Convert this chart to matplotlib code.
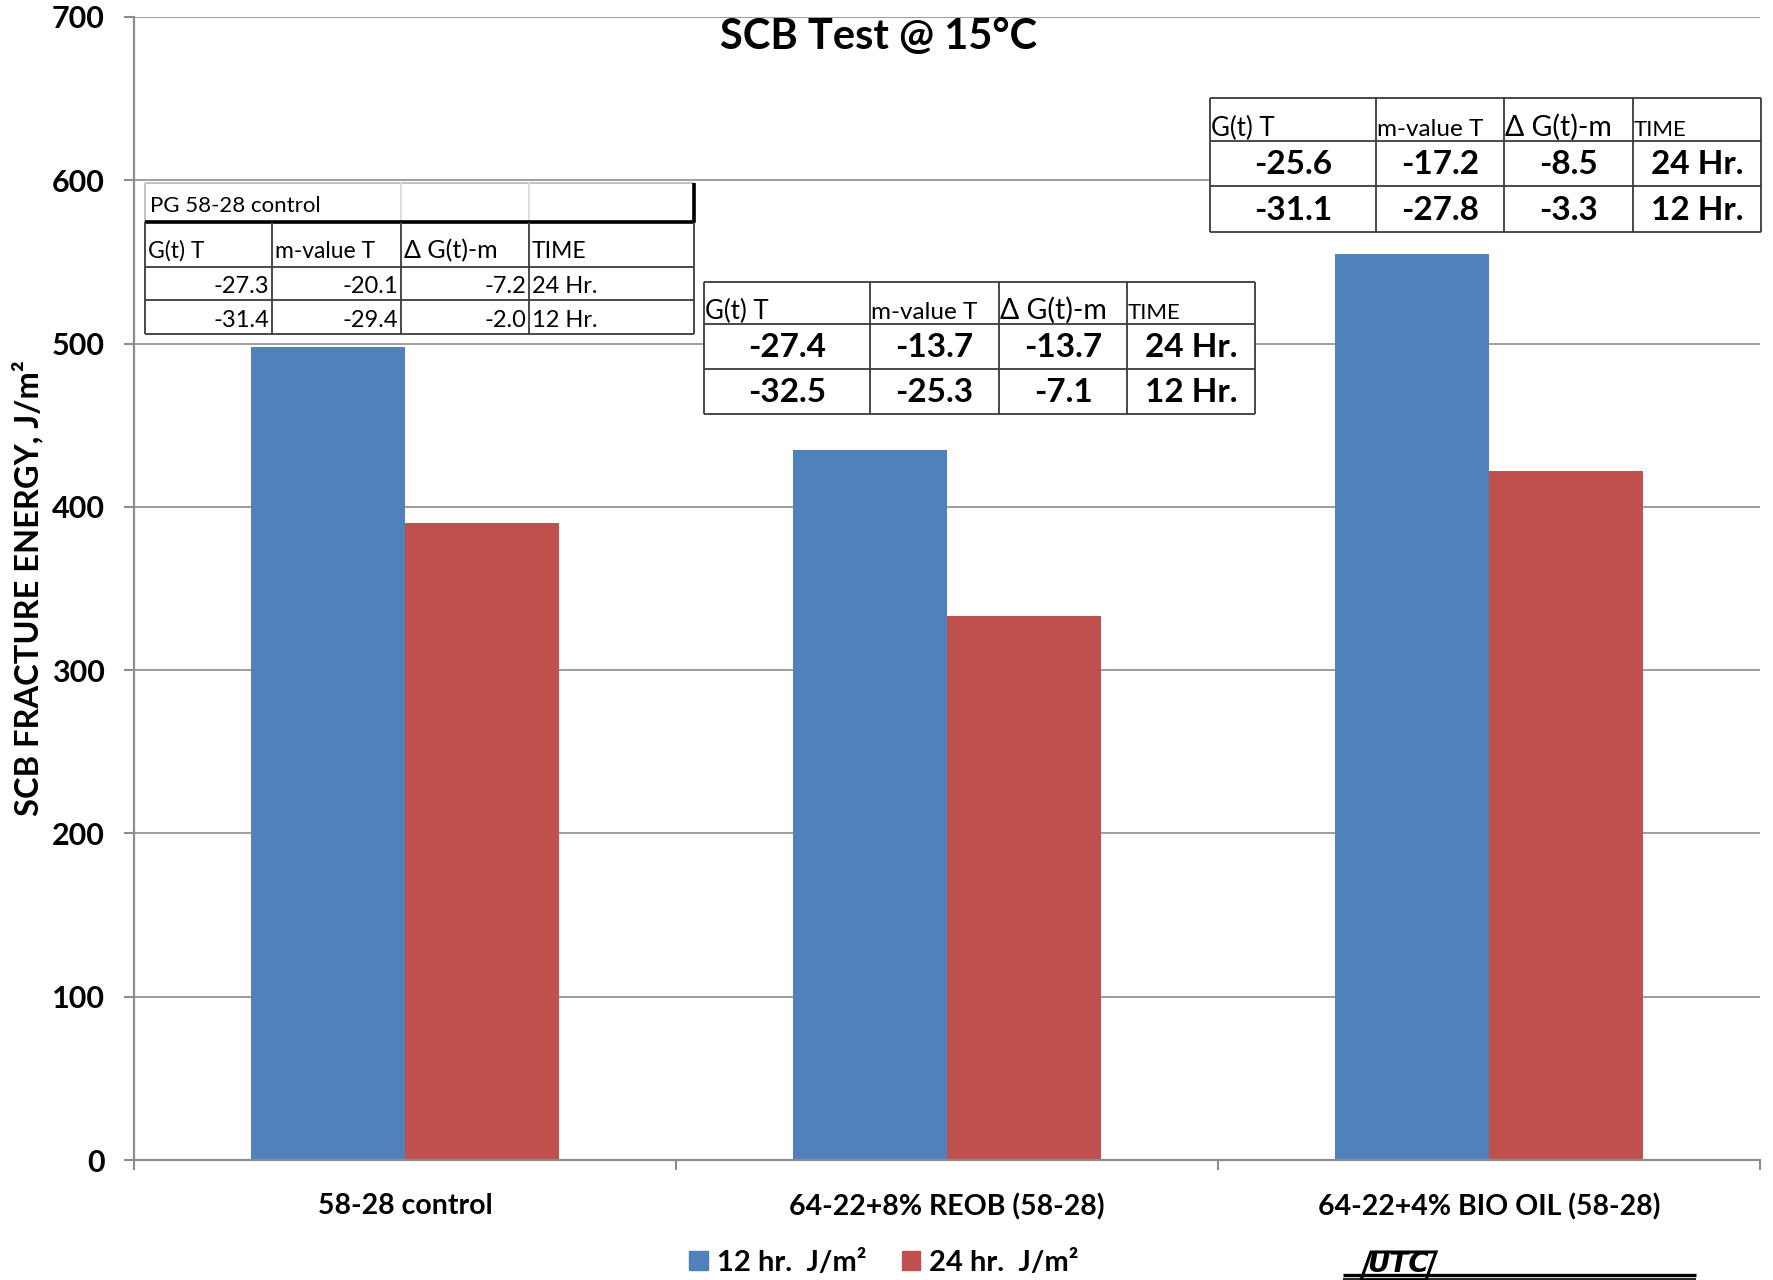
import matplotlib
matplotlib.use("Agg")
import matplotlib.pyplot as plt
import numpy as np
from matplotlib.patches import Patch, Rectangle, Polygon
from matplotlib.ticker import FixedLocator

plt.rcParams['font.family'] = ['Lato', 'DejaVu Sans']

# ---- chart data ----
categories = ["58-28 control", "64-22+8% REOB (58-28)", "64-22+4% BIO OIL (58-28)"]
energy_12hr = [498, 435, 555]
energy_24hr = [390, 333, 422]
series_labels = ["12 hr.  J/m\u00b2", "24 hr.  J/m\u00b2"]
y_ticks = [0, 100, 200, 300, 400, 500, 600, 700]

# ---- table data ----
table_columns = ["G(t) T", "m-value T", "\u0394 G(t)-m", "TIME"]
time_labels = ["24 Hr.", "12 Hr."]
control_title = "PG 58-28 control"
control_gt = [-27.3, -31.4]
control_m = [-20.1, -29.4]
control_delta = [-7.2, -2.0]
reob_gt = [-27.4, -32.5]
reob_m = [-13.7, -25.3]
reob_delta = [-13.7, -7.1]
bio_gt = [-25.6, -31.1]
bio_m = [-17.2, -27.8]
bio_delta = [-8.5, -3.3]

BLUE = '#4F81BD'
RED = '#C0504D'
GRID = '#8c8c8c'

W, H = 1773, 1280
fig = plt.figure(figsize=(W / 100, H / 100), dpi=100)
ax = fig.add_axes([134 / W, 1 - 1160 / H, (1760 - 134) / W, (1160 - 17) / H])

x = np.arange(len(categories))
bw = 0.285
ax.bar(x - bw / 2, energy_12hr, bw, color=BLUE, zorder=2)
ax.bar(x + bw / 2, energy_24hr, bw, color=RED, zorder=2)

ax.set_xlim(-0.5, 2.5)
ax.set_ylim(0, 700)
ax.yaxis.set_major_locator(FixedLocator(y_ticks))
ax.grid(axis='y', color=GRID, lw=1.2, zorder=0)
ax.set_axisbelow(True)
for s in ['top', 'right']:
    ax.spines[s].set_visible(False)
for s in ['left', 'bottom']:
    ax.spines[s].set_color(GRID)
    ax.spines[s].set_linewidth(1.6)

ax.set_xticks(x, categories)
ax.set_xticks([-0.5, 0.5, 1.5, 2.5], minor=True)
ax.tick_params(axis='x', which='major', length=0, pad=24, labelsize=20.5)
ax.tick_params(axis='x', which='minor', length=7, color=GRID, width=1.5)
ax.tick_params(axis='y', length=7, color=GRID, width=1.5, labelsize=22, pad=14)
for lbl in ax.get_xticklabels() + ax.get_yticklabels():
    lbl.set_fontweight('bold')

fig.text(27 / W, 1 - 588 / H, "SCB FRACTURE ENERGY, J/m\u00b2", rotation=90,
         ha='center', va='center', fontsize=23.5, fontweight='bold')
fig.text(879 / W, 1 - 37 / H, "SCB Test @ 15\u00b0C", ha='center', va='center',
         fontsize=30, fontweight='bold')

handles = [Patch(color=BLUE), Patch(color=RED)]
fig.legend(handles, series_labels, loc='center', bbox_to_anchor=(884 / W, 1 - 1263 / H),
           ncol=2, frameon=False, prop={'weight': 'bold', 'size': 21},
           handlelength=0.65, handleheight=0.65, handletextpad=0.3, columnspacing=1.2)

# ---- overlay in pixel coordinates for the data tables ----
ov = fig.add_axes([0, 0, 1, 1], zorder=5)
ov.set_xlim(0, W)
ov.set_ylim(H, 0)
ov.axis('off')

LINE = '#3a3a3a'


def fmt(v):
    return f"{v:.1f}"


def hline(y, x0, x1, color=LINE, lw=1.3):
    ov.plot([x0, x1], [y, y], color=color, lw=lw, solid_capstyle='butt')


def vline(xp, y0, y1, color=LINE, lw=1.3):
    ov.plot([xp, xp], [y0, y1], color=color, lw=lw, solid_capstyle='butt')


def big_table(cols, rows, gt, m, delta):
    ov.add_patch(Rectangle((cols[0], rows[0]), cols[-1] - cols[0], rows[-1] - rows[0],
                           facecolor='white', edgecolor='none'))
    for r in rows:
        hline(r, cols[0], cols[-1])
    for c in cols:
        vline(c, rows[0], rows[-1])
    sizes = [18.5, 17.5, 20.5, 16]
    for i, name in enumerate(table_columns):
        ov.text(cols[i] + 1, rows[1] - 5, name, ha='left', va='baseline',
                fontsize=sizes[i])
    for r in range(2):
        vals = [fmt(gt[r]), fmt(m[r]), fmt(delta[r]), time_labels[r]]
        yc = (rows[r + 1] + rows[r + 2]) / 2
        for i, v in enumerate(vals):
            ov.text((cols[i] + cols[i + 1]) / 2, yc + 1, v, ha='center', va='center',
                    fontsize=24, fontweight='bold')


# control table
c1 = [145, 272, 401, 529, 694]
r1 = [183, 222, 267, 300, 334]
ov.add_patch(Rectangle((c1[0], r1[0]), c1[-1] - c1[0], r1[-1] - r1[0],
                       facecolor='white', edgecolor='none'))
hline(r1[0], c1[0], c1[-1], color='#bdbdbd')
vline(c1[0], r1[0], r1[1], color='#bdbdbd')
for c in c1[2:4]:
    vline(c, r1[0], r1[1], color='#dcdcdc')
hline(r1[1], c1[0], c1[-1], color='black', lw=2.6)
vline(c1[-1], r1[0], r1[1] + 1, color='black', lw=2.6)
for r in r1[2:]:
    hline(r, c1[0], c1[-1])
for c in c1:
    vline(c, r1[1], r1[-1])
ov.text(c1[0] + 5, r1[1] - 10, control_title, ha='left', va='baseline', fontsize=16)
for i, name in enumerate(table_columns):
    ov.text(c1[i] + 3, r1[2] - 9, name, ha='left', va='baseline',
            fontsize=18 if i == 2 else 16.5)
for r in range(2):
    vals = [fmt(control_gt[r]), fmt(control_m[r]), fmt(control_delta[r])]
    yb = r1[r + 3] - 7
    for i, v in enumerate(vals):
        ov.text(c1[i + 1] - 3, yb, v, ha='right', va='baseline', fontsize=17)
    ov.text(c1[3] + 3, yb, time_labels[r], ha='left', va='baseline', fontsize=17)

# REOB table
big_table([704, 870, 999, 1127, 1255], [282, 324, 369, 414], reob_gt, reob_m, reob_delta)
# bio oil table
big_table([1210, 1376, 1504, 1633, 1761], [98, 141, 186, 232], bio_gt, bio_m, bio_delta)

# ---- UTC logo ----
ov.plot([1343, 1696], [1275, 1275], color='black', lw=2.4, solid_capstyle='butt')
ov.plot([1343, 1696], [1279, 1279], color='black', lw=1.2, solid_capstyle='butt')
ov.add_patch(Polygon([[1361, 1280], [1371, 1252], [1436, 1252], [1426, 1280]],
                     closed=True, facecolor='white', edgecolor='black', lw=2.2))
ov.text(1398, 1272, "UTC", ha='center', va='baseline', fontsize=20, fontweight='heavy',
        style='italic', family=['DejaVu Sans'])

fig.savefig("out.png", dpi=100)
